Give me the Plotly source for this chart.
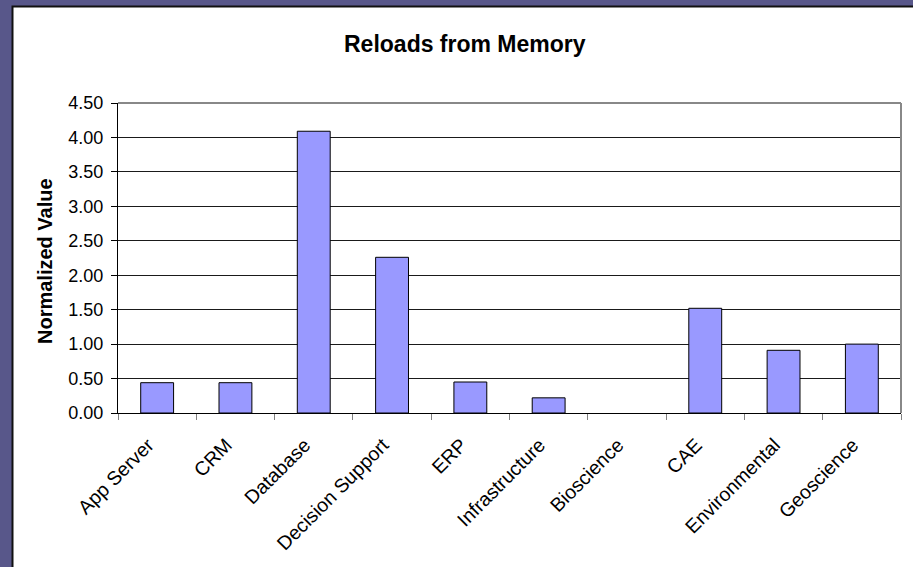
import plotly.graph_objects as go

categories = ["App Server", "CRM", "Database", "Decision Support", "ERP",
              "Infrastructure", "Bioscience", "CAE", "Environmental", "Geoscience"]
values = [0.44, 0.44, 4.09, 2.26, 0.45, 0.22, 0.0, 1.52, 0.91, 1.00]
y_ticks = [0, 0.5, 1.0, 1.5, 2.0, 2.5, 3.0, 3.5, 4.0, 4.5]
y_ticktext = ["%.2f" % v for v in y_ticks]

W, H = 913, 567
L, R, T, B = 118, 12, 103, 154
pw, ph = W - L - R, H - T - B

def px_x(p):
    return (p - L) / pw

def px_y(p):
    return (H - B - p) / ph

FONT = "Liberation Sans, Arial, sans-serif"

fig = go.Figure()
fig.add_trace(go.Bar(
    x=categories, y=values,
    marker=dict(color="#9999ff",
                line=dict(color="black", width=[1 if v > 0 else 0 for v in values])),
))

fig.update_layout(
    width=W, height=H,
    margin=dict(l=L, r=R, t=T, b=B),
    paper_bgcolor="#58578a",
    plot_bgcolor="white",
    showlegend=False,
    bargap=0.58,
    font=dict(family=FONT, size=18, color="black"),
    xaxis=dict(
        type="category",
        tickangle=-45,
        ticks="outside", ticklen=6, tickcolor="#808080", tickson="boundaries",
        showline=True, linecolor="black", linewidth=1,
        showgrid=False,
        tickfont=dict(family=FONT, size=19.5, color="black"),
        ticklabelstandoff=12,
        ticklabelshift=-9,
    ),
    yaxis=dict(
        range=[0, 4.5],
        tickvals=y_ticks, ticktext=y_ticktext,
        ticks="outside", ticklen=6, tickcolor="black",
        showline=True, linecolor="black", linewidth=1,
        showgrid=True, gridcolor="#1a1a1a", gridwidth=1,
        zeroline=False,
        tickfont=dict(family=FONT, size=18, color="black"),
        ticklabelstandoff=4,
    ),
    shapes=[
        dict(type="rect", xref="paper", yref="paper", layer="below",
             x0=px_x(12.5), x1=px_x(W + 5), y0=px_y(H + 5), y1=px_y(6.5),
             fillcolor="white", line=dict(color="#111111", width=2)),
        dict(type="line", xref="paper", yref="paper", layer="above",
             x0=0, x1=1, y0=1, y1=1, line=dict(color="#888888", width=2)),
        dict(type="line", xref="paper", yref="paper", layer="above",
             x0=1, x1=1, y0=0, y1=1, line=dict(color="#888888", width=2)),
    ],
    annotations=[
        dict(text="<b>Reloads from Memory</b>", xref="paper", yref="paper",
             x=px_x(465), y=px_y(44), xanchor="center", yanchor="middle",
             showarrow=False, font=dict(family=FONT, size=23, color="black")),
        dict(text="<b>Normalized Value</b>", xref="paper", yref="paper",
             x=px_x(45), y=px_y(261), xanchor="center", yanchor="middle",
             textangle=-90, showarrow=False,
             font=dict(family=FONT, size=20, color="black")),
    ],
)

fig.write_html("out.html")
